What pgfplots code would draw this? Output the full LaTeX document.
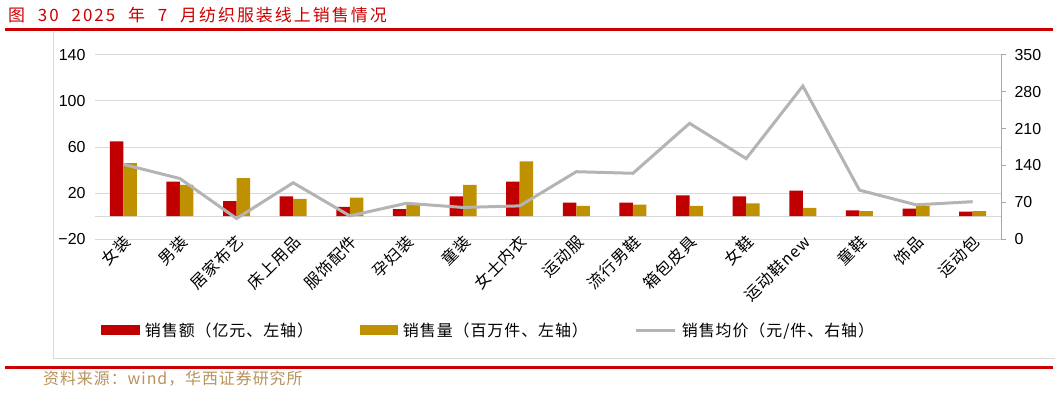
\documentclass[border=0pt]{standalone}
\usepackage{fontspec}
\setmainfont{Liberation Sans}
\newfontfamily\cjk[LetterSpace=6]{Noto Sans CJK SC}
\newfontfamily\cjktitle[LetterSpace=12]{Noto Sans CJK SC}
\usepackage{pgfplots}
\pgfplotsset{compat=1.18}
\definecolor{barRed}{RGB}{192,0,0}
\definecolor{barGold}{RGB}{191,144,0}
\definecolor{lineGray}{RGB}{180,180,180}
\definecolor{gridGray}{RGB}{217,217,217}
\definecolor{axisGray}{RGB}{166,166,166}
\definecolor{titleRed}{RGB}{204,0,0}
\definecolor{srcTan}{RGB}{184,146,90}
\begin{document}
\begin{tikzpicture}[x=1bp,y=1bp]
\useasboundingbox (0,0) rectangle (1059,393);
% title and frame
\node[anchor=west, text=titleRed, font=\cjktitle\fontsize{17}{17}\selectfont, inner sep=0pt] at (8,378) {图\hspace{7bp} 30\hspace{7bp} 2025\hspace{7bp} 年\hspace{7bp} 7\hspace{7bp} 月纺织服装线上销售情况};
\draw[titleRed, line width=3bp] (5,363.5) -- (1053,363.5);
\draw[gridGray, line width=1bp] (53,361) -- (53,35) -- (1055,35);
\draw[titleRed, line width=3bp] (5,26) -- (1053,26);
\node[anchor=west, text=srcTan, font=\cjk\fontsize{16}{16}\selectfont, inner sep=0pt] at (43,14) {资料来源：wind，华西证券研究所};

\begin{axis}[
  at={(95bp,154bp)}, anchor=south west,
  width=906bp, height=184bp, scale only axis,
  xmin=-0.5, xmax=15.5,
  ymin=-20, ymax=140,
  ytick={-20,20,60,100,140},
  yticklabels={−20,20,60,100,140},
  extra y ticks={0}, extra y tick labels={},
  extra y tick style={grid=major},
  ymajorgrids,
  major grid style={gridGray, line width=1bp},
  axis line style={draw=none},
  major tick style={draw=none},
  yticklabel style={font=\fontsize{16}{16}\selectfont, xshift=-6bp},
  xtick={0,...,15},
  xticklabels={女装,男装,居家布艺,床上用品,服饰配件,孕妇装,童装,女士内衣,运动服,流行男鞋,箱包皮具,女鞋,运动鞋new,童鞋,饰品,运动包},
  xticklabel style={font=\cjk\fontsize{16}{16}\selectfont, xshift=5bp, yshift=5bp, rotate=45, anchor=east, inner sep=1bp},
  ybar=0pt, bar width=13.5bp,
  legend columns=3,
  legend cell align=left,
  legend style={at={(0.0066,-0.4946)}, anchor=west, draw=none, fill=none,
    inner sep=0pt, outer sep=0pt,
    font=\cjk\fontsize{16}{16}\selectfont,
    nodes={inner sep=0pt},
    /tikz/every odd column/.append style={column sep=5bp},
    /tikz/every even column/.append style={column sep=47bp}},
]
\addplot[fill=barRed, draw=none,
  legend image code/.code={\fill[barRed] (0bp,-5bp) rectangle (39bp,5bp);}]
  coordinates {(0,65) (1,30) (2,13) (3,17) (4,8) (5,6) (6,17) (7,30) (8,11.6) (9,11.6) (10,18) (11,17) (12,22) (13,5) (14,6.4) (15,3.8)};
\addlegendentry{销售额（亿元、左轴）}
\addplot[fill=barGold, draw=none,
  legend image code/.code={\fill[barGold] (0bp,-5bp) rectangle (38bp,5bp);}]
  coordinates {(0,46) (1,27) (2,33) (3,15) (4,16) (5,11) (6,27) (7,47.5) (8,8.7) (9,10) (10,8.7) (11,11) (12,7) (13,4.3) (14,8.7) (15,4.3)};
\addlegendentry{销售量（百万件、左轴）}
\addlegendimage{legend image code/.code={\draw[lineGray, line width=3bp] (0bp,0bp) -- (39bp,0bp);}}
\addlegendentry{销售均价（元/件、右轴）}
\end{axis}

\begin{axis}[
  at={(95bp,154bp)}, anchor=south west,
  width=906bp, height=184bp, scale only axis,
  xmin=-0.5, xmax=15.5,
  ymin=0, ymax=350,
  ytick={0,70,140,210,280,350},
  axis x line=none,
  axis y line*=right,
  y axis line style={draw=axisGray, line width=1bp, -},
  ytick style={draw=axisGray, line width=1bp},
  tick align=outside,
  major tick length=5bp,
  yticklabel style={font=\fontsize{16}{16}\selectfont, xshift=5bp},
  /pgf/number format/assume math mode=true,
]
\addplot[lineGray, line width=3bp, mark=none]
  coordinates {(0,142) (1,115) (2,39) (3,107) (4,44) (5,68) (6,60) (7,63) (8,128) (9,125) (10,220) (11,153) (12,291) (13,93) (14,65) (15,71)};
\end{axis}
\end{tikzpicture}
\end{document}
